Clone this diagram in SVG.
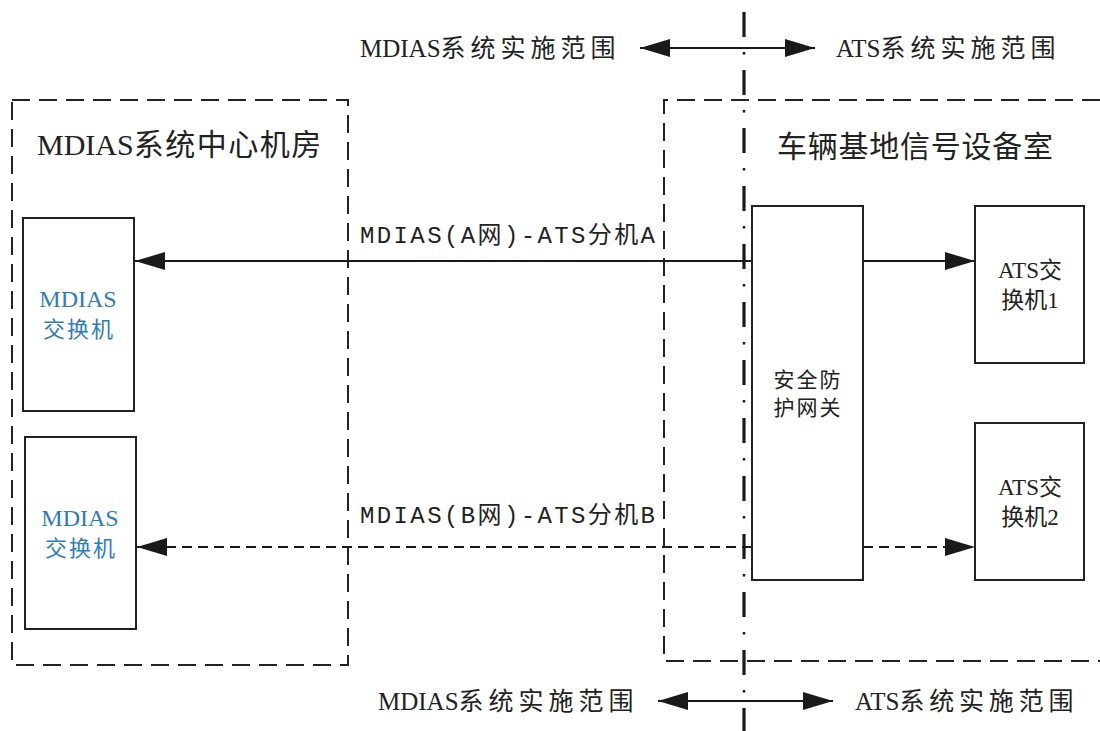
<svg xmlns="http://www.w3.org/2000/svg" width="1100" height="731" viewBox="0 0 1100 731">
<style>
.t{font-family:"Liberation Serif","Noto Sans CJK SC",serif;fill:#222}
.lbl{font-family:"Liberation Mono","Noto Sans CJK SC",monospace;fill:#222;font-size:24px}
.blue{fill:#2f7bbf}
.box{fill:#fff;stroke:#222;stroke-width:2}
.zone{fill:none;stroke:#222;stroke-width:2;stroke-dasharray:18 9}
.con{fill:none;stroke:#1a1a1a;stroke-width:2.2}
.dash{stroke-dasharray:10 6}
</style>
<defs>
<marker id="ah" viewBox="0 0 30 18" refX="30" refY="9" markerWidth="30" markerHeight="18" markerUnits="userSpaceOnUse" orient="auto-start-reverse">
<path d="M0,0 L30,9 L0,18 Z" fill="#1a1a1a" stroke="none"/>
</marker>
</defs>
<rect width="1100" height="731" fill="#fff"/>

<g id="zones">
<rect class="zone" x="12" y="100" width="336" height="565"/>
<path class="zone" d="M1100,100 H664 V661 H1100"/>
<text class="t" x="37" y="155" font-size="30">MDIAS<tspan letter-spacing="1.5">系统中心机房</tspan></text>
<text class="t" x="777" y="157" font-size="30" textLength="276" lengthAdjust="spacing">车辆基地信号设备室</text>
</g>

<g id="boundary">
<line x1="744" y1="0" x2="744" y2="731" stroke="#1a1a1a" stroke-width="3.2" stroke-dasharray="25 33" stroke-dashoffset="46"/>
<line x1="744" y1="0" x2="744" y2="731" stroke="#1a1a1a" stroke-width="2.5" stroke-dasharray="2.5 55.5" stroke-dashoffset="6"/>
<text class="t" x="360" y="57" font-size="25">MDIAS<tspan letter-spacing="5">系统实施范围</tspan></text>
<text class="t" x="836" y="57" font-size="25">ATS<tspan letter-spacing="5">系统实施范围</tspan></text>
<text class="t" x="378" y="710" font-size="25">MDIAS<tspan letter-spacing="5">系统实施范围</tspan></text>
<text class="t" x="855" y="710" font-size="25">ATS<tspan letter-spacing="4.8">系统实施范围</tspan></text>
</g>

<g id="connectors">
<line class="con" x1="640" y1="48" x2="815" y2="48" marker-start="url(#ah)" marker-end="url(#ah)"/>
<line class="con" x1="658" y1="701" x2="833" y2="701" marker-start="url(#ah)" marker-end="url(#ah)"/>
<line class="con" x1="752" y1="261" x2="135" y2="261" marker-end="url(#ah)"/>
<line class="con" x1="863" y1="261" x2="975" y2="261" marker-end="url(#ah)"/>
<line class="con dash" x1="752" y1="547" x2="137" y2="547" marker-end="url(#ah)"/>
<line class="con dash" x1="863" y1="547" x2="975" y2="547" marker-end="url(#ah)"/>
<text class="lbl" x="360" y="243" textLength="295" lengthAdjust="spacing">MDIAS(A网)-ATS分机A</text>
<text class="lbl" x="360" y="523" textLength="295" lengthAdjust="spacing">MDIAS(B网)-ATS分机B</text>
</g>

<g id="mdias-switch-1">
<rect class="box" x="23" y="218" width="111" height="193"/>
<text class="t blue" x="78" y="307" font-size="24" text-anchor="middle">MDIAS</text>
<text class="t blue" x="79" y="337" font-size="22" text-anchor="middle" letter-spacing="2">交换机</text>
</g>

<g id="mdias-switch-2">
<rect class="box" x="25" y="437" width="111" height="192"/>
<text class="t blue" x="80" y="526" font-size="24" text-anchor="middle">MDIAS</text>
<text class="t blue" x="81" y="556" font-size="22" text-anchor="middle" letter-spacing="2">交换机</text>
</g>

<g id="gateway">
<rect class="box" x="752" y="206" width="111" height="374"/>
<text class="t" x="808" y="387" font-size="21" text-anchor="middle" letter-spacing="2">安全防</text>
<text class="t" x="808" y="415" font-size="21" text-anchor="middle" letter-spacing="2">护网关</text>
</g>

<g id="ats-switch-1">
<rect class="box" x="975" y="206" width="109" height="157"/>
<text class="t" x="1030" y="278" font-size="23" text-anchor="middle">ATS交</text>
<text class="t" x="1030" y="308" font-size="23" text-anchor="middle">换机1</text>
</g>

<g id="ats-switch-2">
<rect class="box" x="975" y="423" width="109" height="157"/>
<text class="t" x="1030" y="495" font-size="23" text-anchor="middle">ATS交</text>
<text class="t" x="1030" y="525" font-size="23" text-anchor="middle">换机2</text>
</g>
</svg>
